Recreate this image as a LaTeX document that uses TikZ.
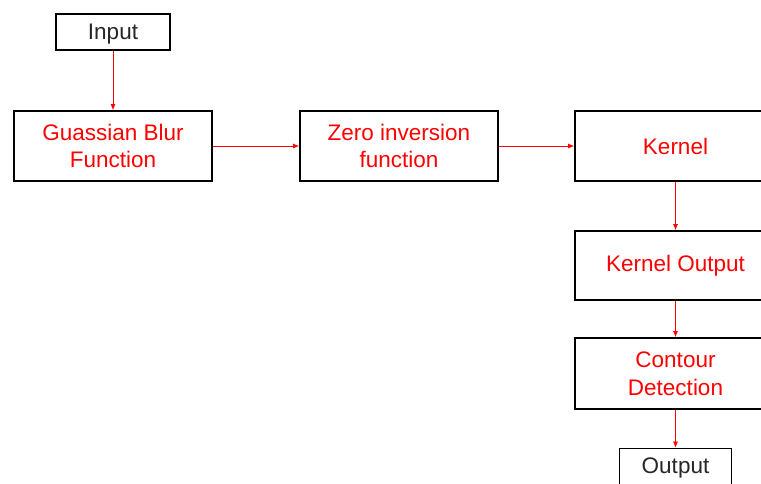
\documentclass[tikz,border=0pt]{standalone}
\usepackage{fontspec}
\setmainfont{Liberation Sans}
\usetikzlibrary{arrows.meta}
\begin{document}
\begin{tikzpicture}[x=1pt,y=-1pt,
  blk/.style={draw=black,line width=1.8pt,fill=white,inner sep=0pt,
    font=\fontsize{22.5}{27.5}\selectfont,align=center},
  stage/.style={blk,text=red,minimum width=198pt,minimum height=70pt},
  term/.style={blk,text=black!85,minimum height=36pt,text height=16pt,text depth=1.5pt},
  flow/.style={draw=red,line width=0.7pt,-{Latex[length=6pt,width=5pt]}}]
\clip (0,0) rectangle (761,483);
\fill[white] (0,0) rectangle (761,483);
\node[term,minimum width=114pt] (in) at (113,32) {Input};
\node[stage] (blur) at (113,146) {Guassian Blur\\Function};
\node[stage] (zero) at (399,146) {Zero inversion\\function};
\node[stage,minimum width=201pt] (ker) at (675.5,146) {Kernel};
\node[stage,minimum width=201pt,minimum height=69pt] (kout) at (675.5,265.5) {Kernel Output};
\node[stage,minimum width=201pt,minimum height=71pt] (cont) at (675.5,373.5) {Contour\\Detection};
\node[term,minimum width=112pt] (out) at (675.5,466.5) {Output};
\draw[flow] (in) -- (blur);
\draw[flow] (blur) -- (zero);
\draw[flow] (zero) -- (ker);
\draw[flow] (ker) -- (kout);
\draw[flow] (kout) -- (cont);
\draw[flow] (cont) -- (out);
\end{tikzpicture}
\end{document}
